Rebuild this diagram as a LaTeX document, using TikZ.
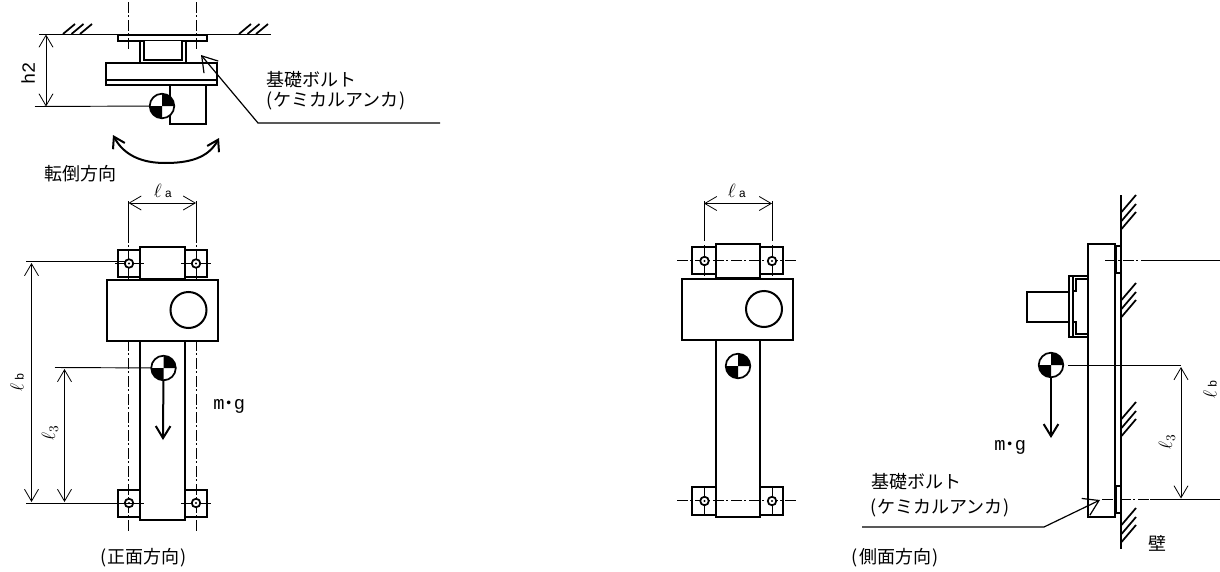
\documentclass[tikz,border=0pt]{standalone}
\usepackage{fontspec}
\setmainfont{Noto Sans CJK JP}
\newfontfamily\latinfont{Liberation Mono}
\usetikzlibrary{arrows.meta,positioning}
\tikzstyle{body}=[draw,line width=1.5pt,fill=white]
\tikzstyle{thinline}=[draw,line width=0.7pt]
\tikzstyle{centerline}=[draw,line width=0.6pt,dash pattern=on 8pt off 2pt on 1.5pt off 2pt]
\tikzstyle{dimline}=[draw,line width=0.6pt,{Straight Barb[length=9pt,width=10.5pt]}-{Straight Barb[length=9pt,width=10.5pt]}]
\tikzstyle{leader}=[draw,line width=0.9pt,-{Straight Barb[length=11pt,width=14pt]}]
\tikzstyle{force}=[draw,line width=1.5pt,-{Straight Barb[length=9pt,width=11pt]}]
\tikzstyle{jptext}=[inner sep=0pt,font=\fontsize{13.5pt}{16pt}\selectfont]
\tikzstyle{dimtext}=[inner sep=0pt,font=\fontsize{14.4pt}{16pt}\selectfont]
\tikzstyle{mono}=[inner sep=0pt,font=\fontsize{14pt}{16pt}\selectfont]
\newcommand{\subfont}[1]{{\fontsize{9pt}{9pt}\selectfont\latinfont #1}}
\newcommand{\openp}{(\kern1pt}
\newcommand{\closep}{\kern1pt)}
% centre of gravity mark
\newcommand{\cogmark}[1]{
  \path[draw,line width=1.3pt,fill=white] (#1) circle (9.2pt);
  \fill (#1) -- ++(9.2pt,0pt) arc (0:90:9.2pt) -- cycle;
  \fill (#1) -- ++(-9.2pt,0pt) arc (180:270:9.2pt) -- cycle;
}
% anchor bolt with its short cross lines
\newcommand{\boltmark}[1]{
  \path[draw,line width=1.3pt,fill=white] (#1) circle (3.2pt);
  \fill (#1) circle (0.8pt);
}
% three wall hatch strokes
\newcommand{\wallhatch}[2]{
  \draw[line width=1.3pt] (#1,#2) -- ++(14.5,-17);
  \draw[line width=1.3pt] (#1,#2+9) -- ++(14.5,-17);
  \draw[line width=1.3pt] (#1,#2+17) -- ++(14.5,-17);
}
\newcommand{\ceilhatch}[1]{
  \draw[line width=1.3pt] (#1,34) -- ++(12,-10);
  \draw[line width=1.3pt] (#1+8.5,34) -- ++(12,-10);
  \draw[line width=1.3pt] (#1+17,34) -- ++(12,-10);
}

\begin{document}
\begin{tikzpicture}[x=0.75pt,y=-0.75pt]
  \useasboundingbox (0,0) rectangle (1220,571);

  % top view
  \draw[line width=1.3pt] (39,34.5) -- (271,34.5);
  \ceilhatch{63}
  \ceilhatch{239}
  \draw [body] (118,34.5) rectangle (207,41);
  \draw [body] (140,41) rectangle (185.5,63);
  \draw [body] (144,41) -- (144,59.5) -- (182,59.5) -- (182,41);
  \draw [body] (106,63) rectangle (217,80);
  \draw [body] (106,80) rectangle (217,85);
  \draw [body] (170,85) rectangle (206,123.5);
  \draw [centerline] (128.5,2) -- (128.5,50);
  \draw [centerline] (196,2) -- (196,50);
  \coordinate (cogt) at (162,106);
  \coordinate (hh1) at (46,34.5);
  \coordinate (hh2) at (46,106.5);
  \coordinate (hhe) at (35,106.5);
  \draw [thinline] (hhe) -- (cogt);
  \cogmark{cogt}
  \draw [dimline] (hh1) -- (hh2);
  \node [mono,rotate=90] (h2) at (28,73) {\latinfont h2};
  \coordinate (lda) at (440,123);
  \coordinate (ldb) at (258,123);
  \coordinate (ldc) at (201,55);
  \draw [leader] (lda) -- (ldb) -- (ldc);
  \node [jptext,anchor=west] (anchor1) at (266,80) {基礎ボルト};
  \node [jptext,below=9pt of anchor1.south west,anchor=west] (anchor2) {\openp ケミカルアンカ\closep};
  \coordinate (tipl) at (113,135);
  \coordinate (tipr) at (219,138);
  \draw [draw,line width=1.5pt,{Straight Barb[length=8pt,width=10pt]}-{Straight Barb[length=8pt,width=10pt]}] (tipl) to [out=-62,in=180] (165,163) to [out=0,in=-118] (tipr);
  \node [jptext,anchor=west] (turn) at (44,174) {転倒方向};

  % front view
  \draw [centerline] (128.8,232) -- (128.8,532);
  \draw [centerline] (196,232) -- (196,532);
  \draw [body,fill=none] (117.5,250) rectangle (140,277);
  \draw [body,fill=none] (185,250) rectangle (207,277);
  \draw [body,fill=none] (117.5,489.5) rectangle (140,517);
  \draw [body,fill=none] (185,489.5) rectangle (207,517);
  \draw [body] (140,247) rectangle (185,279);
  \draw [body] (140,341) rectangle (185,520);
  \draw [body] (107,279.5) rectangle (218,340.5);
  \draw [body] (188.5,310) circle (13.5pt);
  \coordinate (b1) at (129,263.5);
  \coordinate (b2) at (196,263.5);
  \coordinate (b3) at (129,503);
  \coordinate (b4) at (196,503);
  \draw [thinline] (115,263.5) -- (144,263.5);
  \draw [thinline] (181,263.5) -- (211,263.5);
  \draw [thinline] (181,503) -- (211,503);
  \boltmark{b1}
  \boltmark{b2}
  \boltmark{b3}
  \boltmark{b4}
  \coordinate (cogf) at (163.5,368);
  \coordinate (cogfe) at (55,367.5);
  \coordinate (forcef) at (163,440);
  \draw [thinline] (cogfe) -- (cogf);
  \draw [force] (cogf) -- (forcef);
  \cogmark{cogf}
  \node [mono,anchor=west] (mgf) at (213,406.5) {\latinfont m\kern-3pt{\rmfamily\fontsize{13pt}{16pt}\selectfont ・}\kern-3pt g};
  % dimensions
  \coordinate (la1) at (128.5,203);
  \coordinate (la2) at (196,203);
  \draw [thinline] (128.5,201) -- (128.5,232);
  \draw [thinline] (196,201) -- (196,232);
  \draw [dimline] (la1) -- (la2);
  \node [dimtext] (laf) at (163,191) {$\ell$\,\subfont{a}};
  \coordinate (lbe1) at (26,261.5);
  \coordinate (lbe2) at (26,503);
  \coordinate (lb1) at (31.5,263);
  \coordinate (lb2) at (31.5,502);
  \coordinate (l31) at (64.5,369);
  \coordinate (l32) at (64.5,502);
  \draw [thinline] (lbe1) -- (125,261.5);
  \draw [thinline] (lbe2) -- (144,503);
  \draw [dimline] (lb1) -- (lb2);
  \draw [dimline] (l31) -- (l32);
  \node [dimtext,rotate=90] (lbf) at (17,382) {$\ell$\,\subfont{b}};
  \node [dimtext,rotate=90] (l3f) at (50,433) {$\ell_3$};
  \node [jptext] (front) at (143.5,558) {\openp 正面方向\closep};

  % middle view
  \draw [body,fill=none] (692,247) rectangle (716,274);
  \draw [body,fill=none] (760,247) rectangle (783,274);
  \draw [body,fill=none] (692,487) rectangle (716,515);
  \draw [body,fill=none] (760,487) rectangle (783,515);
  \draw [centerline] (677,260) -- (798,260);
  \draw [body,fill=none] (716,243.5) rectangle (760,278);
  \draw [body] (716,340) rectangle (760,517);
  \draw [centerline] (677,500.5) -- (798,500.5);
  \draw [body] (682,279) rectangle (793,340);
  \draw [body] (764,309) circle (13.5pt);
  \coordinate (b5) at (704.5,261);
  \coordinate (b6) at (772,261);
  \coordinate (b7) at (704.5,501);
  \coordinate (b8) at (772,501);
  \draw [thinline] (704.5,245) -- (704.5,276);
  \draw [thinline] (772,245) -- (772,276);
  \draw [thinline] (704.5,486) -- (704.5,516);
  \draw [thinline] (772,486) -- (772,516);
  \boltmark{b5}
  \boltmark{b6}
  \boltmark{b7}
  \boltmark{b8}
  \coordinate (cogm) at (738,366);
  \cogmark{cogm}
  \coordinate (la3) at (704,203.5);
  \coordinate (la4) at (772,203.5);
  \draw [thinline] (704,201) -- (704,241);
  \draw [thinline] (772,201) -- (772,241);
  \draw [dimline] (la3) -- (la4);
  \node [dimtext] (lam) at (737,191) {$\ell$\,\subfont{a}};

  % side view
  \draw[line width=1.5pt] (1121,195) -- (1121,549);
  \wallhatch{1121.5}{212}
  \wallhatch{1121.5}{300}
  \wallhatch{1121.5}{419}
  \wallhatch{1121.5}{525}
  \draw [body] (1115,247) rectangle (1121,513);
  \draw [body] (1115.5,246) rectangle (1121,273);
  \draw [body] (1115.5,486) rectangle (1121,513);
  \draw [body] (1088,244) rectangle (1115,517);
  \draw [body] (1069,276) rectangle (1088,337);
  \draw [draw,line width=1.2pt] (1073,276) -- (1073,337);
  \draw [draw,line width=1.2pt] (1088,279) -- (1076,279) -- (1076,291) -- (1073,291);
  \draw [draw,line width=1.2pt] (1088,334) -- (1076,334) -- (1076,322) -- (1073,322);
  \draw [body] (1027,292) rectangle (1069,322);
  \coordinate (cogs) at (1051,365);
  \coordinate (forces) at (1051,438);
  \coordinate (l3s) at (1181,365);
  \draw [thinline] (1068,365) -- (l3s);
  \draw [force] (cogs) -- (forces);
  \cogmark{cogs}
  \node [mono,anchor=west] (mgs) at (994,447) {\latinfont m\kern-3pt{\rmfamily\fontsize{13pt}{16pt}\selectfont ・}\kern-3pt g};
  \draw [centerline] (1105,260.5) -- (1145,260.5);
  \draw [thinline] (1145,260.5) -- (1220,260.5);
  \draw [centerline] (1102,499.5) -- (1150,499.5);
  \draw [thinline] (1150,499.5) -- (1220,499.5);
  \coordinate (l33) at (1181,367);
  \coordinate (l34) at (1181,498.5);
  \draw [dimline] (l33) -- (l34);
  \node [dimtext,rotate=90] (l3s2) at (1167,442) {$\ell_3$};
  \node [dimtext,rotate=90] (lbs) at (1210,389) {$\ell$\,\subfont{b}};
  \coordinate (lde) at (862,527);
  \coordinate (ldf) at (1044,527);
  \coordinate (ldg) at (1100,500);
  \draw [leader] (lde) -- (ldf) -- (ldg);
  \node [jptext,anchor=west] (anchor3) at (871,482) {基礎ボルト};
  \node [jptext,anchor=west] (anchor4) at (870,508) {\openp ケミカルアンカ\closep};
  \node [jptext] (wall) at (1157,543) {壁};
  \node [jptext] (side) at (895,558) {\openp 側面方向\closep};
\end{tikzpicture}
\end{document}
